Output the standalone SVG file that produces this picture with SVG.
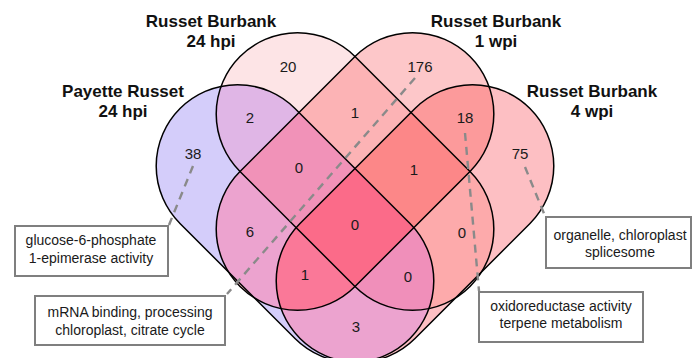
<svg xmlns="http://www.w3.org/2000/svg" xmlns:xlink="http://www.w3.org/1999/xlink" width="693" height="358" viewBox="0 0 693 358">
<style>
.title{font-family:"Liberation Sans",Arial,sans-serif;font-size:17px;font-weight:bold;fill:#111;text-anchor:middle}
.num{font-family:"Liberation Sans",Arial,sans-serif;font-size:15px;fill:#1a1a1a;text-anchor:middle}
.note{font-family:"Liberation Sans",Arial,sans-serif;font-size:14px;fill:#1a1a1a;text-anchor:middle}
.box{fill:#fff;stroke:#7f7f7f;stroke-width:2}
.outline{fill:none;stroke:#000;stroke-width:1.5}
.lead{fill:none;stroke:#8a8a8a;stroke-width:2.4;stroke-dasharray:8 6}
</style>
<defs>
<path id="sA" d="M295,108.5 L410,223.5 A81.3,81.3 0 0 1 295,338.5 L180,223.5 A81.3,81.3 0 0 1 295,108.5 Z"/>
<path id="sB" d="M355,56.5 L470,171.5 A81.3,81.3 0 0 1 355,286.5 L240,171.5 A81.3,81.3 0 0 1 355,56.5 Z"/>
<path id="sC" d="M355,56.5 A81.3,81.3 0 0 1 470,171.5 L355,286.5 A81.3,81.3 0 0 1 240,171.5 Z"/>
<path id="sD" d="M415,108.5 A81.3,81.3 0 0 1 530,223.5 L415,338.5 A81.3,81.3 0 0 1 300,223.5 Z"/>
<clipPath id="cA"><use xlink:href="#sA"/></clipPath>
<clipPath id="cB"><use xlink:href="#sB"/></clipPath>
<clipPath id="cC"><use xlink:href="#sC"/></clipPath>
<clipPath id="cD"><use xlink:href="#sD"/></clipPath>
</defs>
<g id="regions">
<use xlink:href="#sA" fill="#d4cdfa"/>
<use xlink:href="#sB" fill="#fde4e6"/>
<use xlink:href="#sC" fill="#fdc7c9"/>
<use xlink:href="#sD" fill="#fdbfc3"/>
<g clip-path="url(#cA)"><use xlink:href="#sB" fill="#e0b6e6"/></g>
<g clip-path="url(#cA)"><use xlink:href="#sC" fill="#eca3cf"/></g>
<g clip-path="url(#cA)"><use xlink:href="#sD" fill="#eca3cf"/></g>
<g clip-path="url(#cB)"><use xlink:href="#sC" fill="#fcb3b5"/></g>
<g clip-path="url(#cB)"><use xlink:href="#sD" fill="#fdaaab"/></g>
<g clip-path="url(#cC)"><use xlink:href="#sD" fill="#fc9a9b"/></g>
<g clip-path="url(#cA)"><g clip-path="url(#cB)"><use xlink:href="#sC" fill="#f192b8"/></g></g>
<g clip-path="url(#cA)"><g clip-path="url(#cB)"><use xlink:href="#sD" fill="#f08fba"/></g></g>
<g clip-path="url(#cA)"><g clip-path="url(#cC)"><use xlink:href="#sD" fill="#fa7898"/></g></g>
<g clip-path="url(#cB)"><g clip-path="url(#cC)"><use xlink:href="#sD" fill="#fc8788"/></g></g>
<g clip-path="url(#cA)"><g clip-path="url(#cB)"><g clip-path="url(#cC)"><use xlink:href="#sD" fill="#fb6b89"/></g></g></g>
</g>
<g id="setA"><use xlink:href="#sA" class="outline"/><text class="title" x="123" y="97">Payette Russet</text><text class="title" x="123" y="117">24 hpi</text></g>
<g id="setB"><use xlink:href="#sB" class="outline"/><text class="title" x="211" y="27">Russet Burbank</text><text class="title" x="211" y="47">24 hpi</text></g>
<g id="setC"><use xlink:href="#sC" class="outline"/><text class="title" x="496" y="27">Russet Burbank</text><text class="title" x="496" y="47">1 wpi</text></g>
<g id="setD"><use xlink:href="#sD" class="outline"/><text class="title" x="592" y="97">Russet Burbank</text><text class="title" x="592" y="117">4 wpi</text></g>
<g id="counts">
<text class="num" x="288" y="72">20</text>
<text class="num" x="420" y="72">176</text>
<text class="num" x="193" y="159">38</text>
<text class="num" x="520" y="159">75</text>
<text class="num" x="250" y="123">2</text>
<text class="num" x="355" y="118">1</text>
<text class="num" x="465" y="123">18</text>
<text class="num" x="299" y="173">0</text>
<text class="num" x="414" y="175">1</text>
<text class="num" x="250" y="237">6</text>
<text class="num" x="355" y="230">0</text>
<text class="num" x="462" y="238">0</text>
<text class="num" x="305" y="280">1</text>
<text class="num" x="408" y="282">0</text>
<text class="num" x="356" y="332">3</text>
</g>
<g id="connectors">
<path class="lead" d="M193,166 L169,225"/>
<path class="lead" d="M415,78 L227,294"/>
<path class="lead" d="M525,167 L545,216"/>
<path class="lead" d="M465,133 L479,291"/>
</g>
<g id="note1"><rect class="box" x="15" y="226" width="153" height="50"/><text class="note" x="91" y="245">glucose-6-phosphate</text><text class="note" x="91" y="263">1-epimerase activity</text></g>
<g id="note2"><rect class="box" x="35" y="296" width="190" height="49"/><text class="note" x="130" y="317">mRNA binding, processing</text><text class="note" x="130" y="335">chloroplast, citrate cycle</text></g>
<g id="note3"><rect class="box" x="546" y="217" width="145" height="51"/><text class="note" x="620" y="240">organelle, chloroplast</text><text class="note" x="620" y="257">splicesome</text></g>
<g id="note4"><rect class="box" x="479" y="292" width="164" height="50"/><text class="note" x="561" y="311">oxidoreductase activity</text><text class="note" x="561" y="328">terpene metabolism</text></g>
</svg>
